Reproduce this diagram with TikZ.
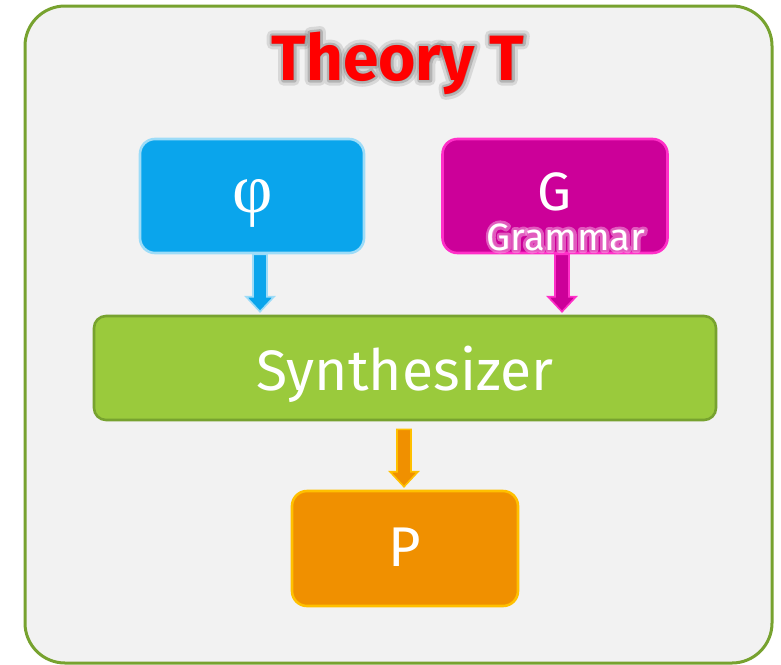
\documentclass[tikz,border=0pt]{standalone}
\usepackage{fontspec}
\setmainfont{Fira Sans}
\newfontfamily\greekfont{Liberation Serif}
\usetikzlibrary{calc}
\definecolor{bgfill}{HTML}{F2F2F2}
\definecolor{outerline}{HTML}{77A22F}
\definecolor{phifill}{HTML}{0AA5EC}
\definecolor{philine}{HTML}{9DDCF8}
\definecolor{gfill}{HTML}{CC0099}
\definecolor{gline}{HTML}{FF2FC8}
\definecolor{synfill}{HTML}{9ACA3C}
\definecolor{synline}{HTML}{77A22F}
\definecolor{pfill}{HTML}{F09000}
\definecolor{pline}{HTML}{FFC000}
\definecolor{titlered}{HTML}{FF0000}
\definecolor{pinkglow}{HTML}{F4A6DE}
\newcommand\strokedtext[2]{\special{pdf:literal direct 2 Tr #1 w 1 j 1 J}#2\special{pdf:literal direct 0 Tr 1 w}}
\newcommand\blockarrow[4]{%
  \draw[draw=#3, fill=#4, line width=1.6pt, line join=miter] let \p1=(#1), \p2=(#2) in
    (\x1-7pt,\y1) -- (\x1+7pt,\y1) -- (\x1+7pt,\y2+15pt) -- (\x1+14pt,\y2+15pt)
    -- (\x1,\y2) -- (\x1-14pt,\y2+15pt) -- (\x1-7pt,\y2+15pt) -- cycle;}
\begin{document}
\begin{tikzpicture}[x=1pt,y=-1pt,
  box/.style={rounded corners=15pt, line width=2.6pt, inner sep=0pt},
  lbl/.style={text=white, inner sep=0pt},
  titlefont/.style={font=\bfseries\fontsize{64}{66}\selectfont},
  gramfont/.style={font=\fontsize{38}{40}\selectfont}]
\useasboundingbox (0,0) rectangle (781,664);
\fill[white] (0,0) rectangle (781,664);
\node[draw=outerline, fill=bgfill, line width=3pt, rounded corners=40pt,
  minimum width=747pt, minimum height=657pt, inner sep=0pt] (theory) at (398.5,334.5) {};
% title with soft glow
\node[text=gray, opacity=0.22, inner sep=0pt, titlefont] (titleglowA) at (398,63) {\strokedtext{11}{Theory T}};
\node[text=gray, opacity=0.4, inner sep=0pt, titlefont] (titleglowB) at (398,63) {\strokedtext{5}{Theory T}};
\node[text=titlered, inner sep=0pt, titlefont] (title) at (398,63) {Theory T};
% boxes
\node[box, fill=phifill, draw=philine, minimum width=224pt, minimum height=114pt] (phi) at (252,196) {};
\node[box, fill=gfill, draw=gline, minimum width=225pt, minimum height=114pt] (G) at (555,196) {};
\node[box, rounded corners=12pt, fill=synfill, draw=synline, minimum width=622pt, minimum height=104pt] (syn) at (405,368) {};
\node[box, fill=pfill, draw=pline, minimum width=226pt, minimum height=115pt] (P) at (405,548.5) {};
% labels
\node[lbl, font=\greekfont\fontsize{70}{72}\selectfont] (philbl) at (253,203) {φ};
\node[lbl, font=\fontsize{54}{56}\selectfont] (Glbl) at (555,192) {G};
\node[text=pinkglow, opacity=0.55, inner sep=0pt, gramfont] (gramglow) at (566,237) {\strokedtext{6}{Grammar}};
\node[lbl, gramfont] (Gsub) at (566,237) {Grammar};
\node[lbl, font=\fontsize{57}{60}\selectfont] (synlbl) at (405,374) {Synthesizer};
\node[lbl, font=\fontsize{56}{60}\selectfont] (Plbl) at (405,547) {P};
% arrows
\coordinate (a1s) at ($(phi.south)+(8,0)$);
\coordinate (a1e) at ($(syn.north)+(-145,-3)$);
\blockarrow{a1s}{a1e}{philine}{phifill}
\coordinate (a2s) at ($(G.south)+(7,0)$);
\coordinate (a2e) at ($(syn.north)+(157,-3)$);
\blockarrow{a2s}{a2e}{gline}{gfill}
\coordinate (a3s) at ($(syn.south)+(-1,8)$);
\coordinate (a3e) at ($(P.north)+(-1,-3)$);
\blockarrow{a3s}{a3e}{pline}{pfill}
\end{tikzpicture}
\end{document}
